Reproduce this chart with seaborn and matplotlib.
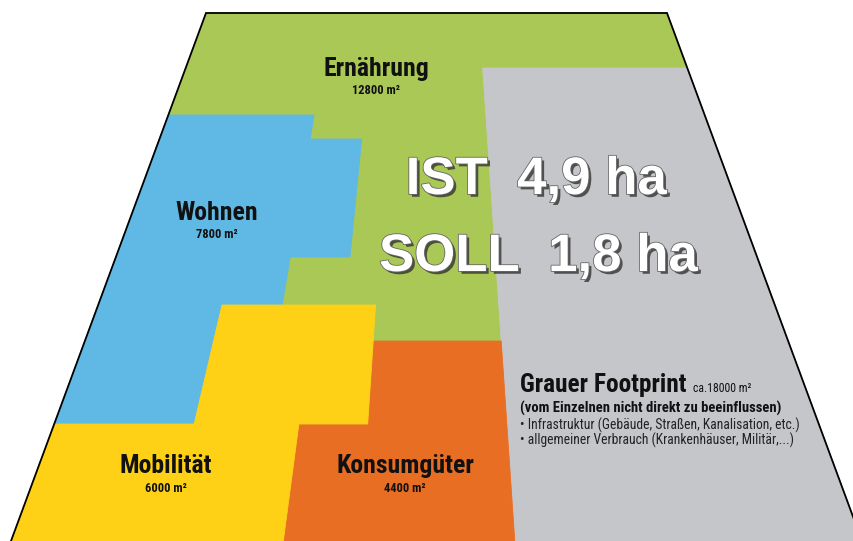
import matplotlib
matplotlib.use("Agg")
import matplotlib.pyplot as plt
import matplotlib.patheffects as pe
from matplotlib import font_manager
import seaborn as sns

# footprint per category (m²)
categories = ["Ernährung", "Wohnen", "Mobilität", "Konsumgüter", "Grauer Footprint"]
areas_m2 = [12800, 7800, 6000, 4400, 18000]
ist_ha = 4.9
soll_ha = 1.8
grey_subtitle = "(vom Einzelnen nicht direkt zu beeinflussen)"
grey_notes = [
    "Infrastruktur (Gebäude, Straßen, Kanalisation, etc.)",
    "allgemeiner Verbrauch (Krankenhäuser, Militär,...)",
]
colors = ["#AAC855", "#5FB9E4", "#FED116", "#E86E24", "#C5C6CA"]

# layout of the field: u = 0..1 across the field, y = screen row
FIELD_TOP, FIELD_BOT = 13, 541
TOP_L, TOP_R = 206, 667
BOT_L, BOT_R = 11, 862

shapes = {
    "Ernährung": [(0, 13), (1, 13), (1, 541), (0, 541)],
    "Grauer Footprint": [(0.592, 68), (1, 68), (1, 541), (0.592, 541)],
    "Wohnen": [(0, 115), (0.272, 115), (0.272, 139), (0.365, 139), (0.365, 257),
               (0.272, 257), (0.272, 424), (0, 424)],
    "Konsumgüter": [(0.41, 341), (0.592, 341), (0.592, 541), (0.32, 541),
                    (0.32, 424), (0.41, 424)],
    "Mobilität": [(0.183, 305), (0.41, 305), (0.41, 424), (0.32, 424), (0.32, 541),
                  (0, 541), (0, 424), (0.183, 424)],
}
draw_order = ["Ernährung", "Grauer Footprint", "Wohnen", "Konsumgüter", "Mobilität"]
label_pos = {
    "Ernährung": (376, 69),
    "Wohnen": (217, 213),
    "Mobilität": (166, 466),
    "Konsumgüter": (405, 466),
}


def to_screen(u, y):
    t = (y - FIELD_TOP) / (FIELD_BOT - FIELD_TOP)
    left = TOP_L + (BOT_L - TOP_L) * t
    right = TOP_R + (BOT_R - TOP_R) * t
    return left + u * (right - left), y


def pick_font(names):
    have = {f.name for f in font_manager.fontManager.ttflist}
    for n in names:
        if n in have:
            return n
    return "DejaVu Sans"


sns.set_style("white")
narrow = pick_font(["Liberation Sans Narrow", "DejaVu Sans Condensed", "Roboto Condensed", "Roboto"])
plt.rcParams["font.family"] = [narrow, "DejaVu Sans"]

fig = plt.figure(figsize=(8.54, 5.41), dpi=100)
ax = fig.add_axes([0, 0, 1, 1])
ax.set_xlim(0, 854)
ax.set_ylim(541, 0)
ax.axis("off")

col = dict(zip(categories, colors))
area = dict(zip(categories, areas_m2))

for name in draw_order:
    pts = [to_screen(u, y) for u, y in shapes[name]]
    xs, ys = zip(*pts)
    ax.fill(xs, ys, color=col[name], lw=0.6, ec=col[name], zorder=1)

# outline of the field (top, left, right)
edge = [to_screen(0, 541), to_screen(0, 13), to_screen(1, 13), to_screen(1, 541)]
ex, ey = zip(*edge)
ax.plot(ex, ey, color="black", lw=1.3, zorder=2, solid_joinstyle="miter")

for name, (x, y) in label_pos.items():
    ax.text(x, y, name, fontsize=18.5, fontweight="bold", ha="center", va="center",
            color="#111111", zorder=3)
    ax.text(x, y + 22, f"{area[name]} m²", fontsize=9, fontweight="bold",
            ha="center", va="center", color="#111111", zorder=3)

# grey footprint block
ax.text(520, 392, "Grauer Footprint", fontsize=18.3, fontweight="bold", ha="left",
        va="baseline", color="#111111", zorder=3)
ax.text(693, 392, f"ca.{area['Grauer Footprint']} m²", fontsize=8.5, ha="left",
        va="baseline", color="#111111", zorder=3)
ax.text(520, 408, grey_subtitle, fontsize=10.5, fontweight="bold", ha="left",
        va="center", color="#111111", zorder=3)
for i, note in enumerate(grey_notes):
    ax.text(520, 425 + i * 15, "\u2022 " + note, fontsize=9.8, ha="left",
            va="center", color="#222222", zorder=3)

big = dict(fontsize=38, fontweight="bold", ha="center", va="center", color="white",
           family=["Liberation Sans", "DejaVu Sans"], zorder=4,
           path_effects=[pe.withSimplePatchShadow(offset=(2, -2), shadow_rgbFace="#333333", alpha=0.8),
                         pe.Stroke(linewidth=1.2, foreground="#666666"), pe.Normal()])
ax.text(536, 180, f"IST  {ist_ha:.1f} ha".replace(".", ","), **big)
ax.text(538, 257, f"SOLL  {soll_ha:.1f} ha".replace(".", ","), **big)

fig.savefig("out.png", dpi=100)
